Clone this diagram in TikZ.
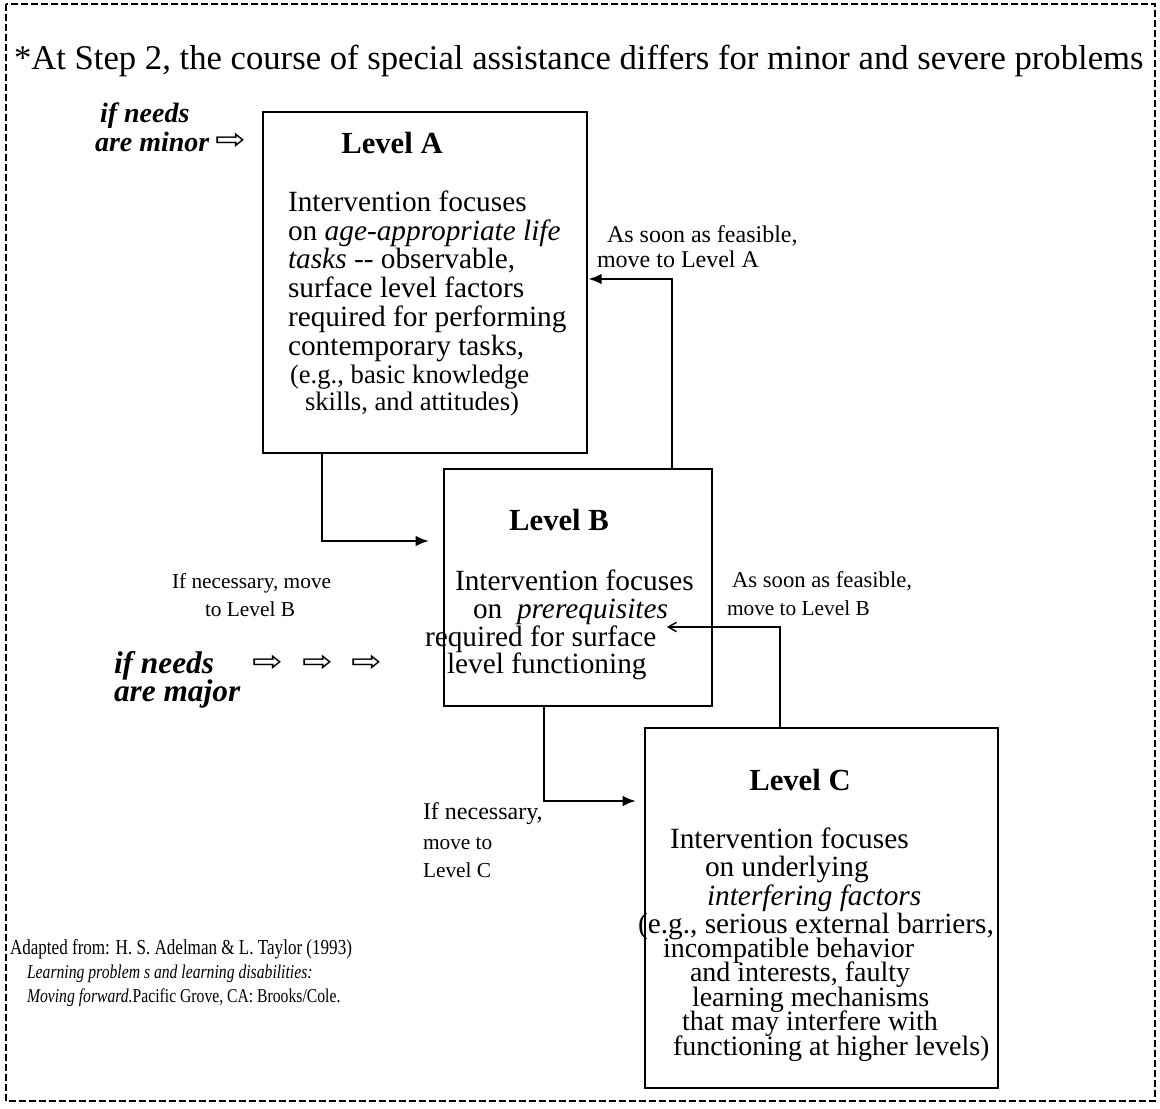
\documentclass[tikz,border=0pt]{standalone}
\usepackage{fontspec}
\setmainfont{Liberation Serif}
\newfontfamily\symfont{DejaVu Sans}
\newfontfamily\condfont[FakeStretch=0.8]{Liberation Serif}
\usetikzlibrary{arrows.meta,fit}
\newcommand\fsz[1]{\fontsize{#1}{#1}\selectfont}
\begin{document}
\begin{tikzpicture}[x=0.75pt,y=-0.75pt,
  box/.style={draw, line width=2pt, inner sep=0pt, fit={#1}},
  t/.style={anchor=base west, inner sep=0pt, outer sep=0pt},
  lvl/.style={anchor=base, inner sep=0pt, font=\bfseries\fsz{23}},
  body/.style={t, font=\fsz{22}},
  tight/.style={t, font=\fsz{21}},
  small/.style={t, font=\fsz{20}},
  lab/.style={t, font=\fsz{16}},
  need/.style={t, font=\bfseries\itshape\fsz{21}},
  cite/.style={t, font=\condfont\fsz{16}},
  sym/.style={inner sep=0pt, font=\symfont\fsz{22}},
  conn/.style={line width=1.8pt, -{Latex[length=10pt,width=8pt]}},
  thinconn/.style={line width=1.1pt, -{Straight Barb[length=6pt,width=7pt]}}
]
\useasboundingbox (0,0) rectangle (1160,1108);
\draw[line width=1.3pt, dash pattern=on 5pt off 2.5pt] (6,4) rectangle (1155,1101);

\node[t, font=\fsz{26}] (title) at (14,69) {*At Step 2, the course of special assistance differs for minor and severe problems};

% minor needs
\node[need] (minor1) at (100,122) {if needs};
\node[need] (minor2) at (95,151) {are minor};
\node[sym] (minorarr) at (231,141) {\scalebox{1.25}[1]{⇨}};

% Box A
\node[box={(263,112) (587,453)}] (A) {};
\node[lvl] (Atitle) at (392,153) {Level A};
\node[body] (a1) at (288,211) {Intervention focuses};
\node[body] (a2) at (288,240) {on \textit{age-appropriate life}};
\node[body] (a3) at (288,268) {\textit{tasks} -{}- observable,};
\node[body] (a4) at (288,297) {surface level factors};
\node[body] (a5) at (288,326) {required for performing};
\node[body] (a6) at (288,355) {contemporary tasks,};
\node[small] (a7) at (290,383) {(e.g., basic knowledge};
\node[small] (a8) at (305,410) {skills, and attitudes)};

% Box B
\node[box={(444,469) (712,706)}] (B) {};
\node[lvl] (Btitle) at (559,530) {Level B};
\node[body] (b1) at (455,590) {Intervention focuses};
\node[body] (b2) at (473,618) {on\ \ \textit{prerequisites}};
\node[body] (b3) at (425,646) {required for surface};
\node[body] (b4) at (447,673) {level functioning};

% Box C
\node[box={(645,728) (998,1088)}] (C) {};
\node[lvl] (Ctitle) at (800,790) {Level C};
\node[body] (c1) at (670,848) {Intervention focuses};
\node[body] (c2) at (705,876) {on underlying};
\node[body] (c3) at (707,905) {\textit{interfering factors}};
\node[body] (c4) at (638,933) {(e.g., serious external barriers,};
\node[tight] (c5) at (663,957) {incompatible behavior};
\node[tight] (c6) at (690,981.5) {and interests, faulty};
\node[tight] (c7) at (692,1006) {learning mechanisms};
\node[tight] (c8) at (682,1030.5) {that may interfere with};
\node[tight] (c9) at (673,1055) {functioning at higher levels)};

% labels
\node[lab, font=\fsz{18}] (l1) at (607,242) {As soon as feasible,};
\node[lab, font=\fsz{18}] (l2) at (597,267) {move to Level A};
\node[lab] (l3) at (172,588) {If necessary, move};
\node[lab] (l4) at (205,616) {to Level B};
\node[lab, font=\fsz{17}] (l5) at (732,587) {As soon as feasible,};
\node[lab] (l6) at (727,615) {move to Level B};
\node[lab, font=\fsz{18}] (l7) at (423,819) {If necessary,};
\node[lab] (l8) at (423,849) {move to};
\node[lab] (l9) at (423,877) {Level C};

% major needs
\node[need, font=\bfseries\itshape\fsz{23.5}] (major1) at (114,673) {if needs};
\node[need, font=\bfseries\itshape\fsz{23.5}] (major2) at (114,701) {are major};
\node[sym] (majarr1) at (268,663) {\scalebox{1.25}[1]{⇨}};
\node[sym] (majarr2) at (318,663) {\scalebox{1.25}[1]{⇨}};
\node[sym] (majarr3) at (367,663) {\scalebox{1.25}[1]{⇨}};

% citation
\node[cite] (r1) at (10,954) {Adapted from: H. S. Adelman \& L. Taylor (1993)};
\node[cite, font=\condfont\fsz{14.7}] (r2) at (27,978) {\textit{Learning problem s and learning disabilities:}};
\node[cite, font=\condfont\fsz{14.7}] (r3) at (27,1002) {\textit{Moving forward.}Pacific Grove, CA: Brooks/Cole.};

% connectors
\coordinate (ax) at (322,0);
\coordinate (abEnd) at (429,541);
\draw[conn] (A.south -| ax) |- (abEnd);
\coordinate (bx) at (672,0);
\coordinate (ay) at (0,279);
\draw[conn] (B.north -| bx) |- (A.east |- ay);
\coordinate (cx) at (544,0);
\coordinate (bcEnd) at (636,801);
\draw[conn] (B.south -| cx) |- (bcEnd);
\coordinate (dx) at (780,0);
\coordinate (cbEnd) at (667,627);
\draw[thinconn] (C.north -| dx) |- (cbEnd);
\end{tikzpicture}
\end{document}
